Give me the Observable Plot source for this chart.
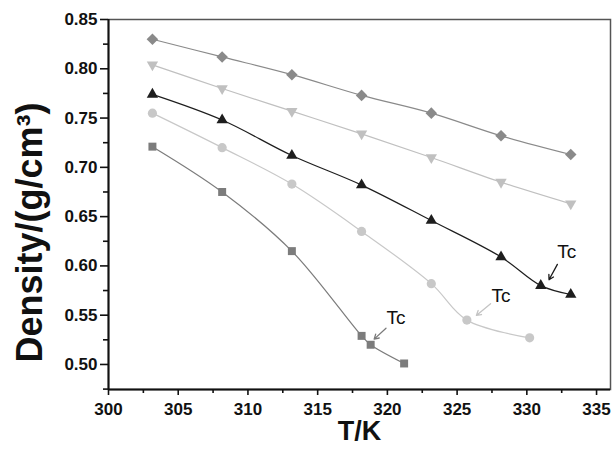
<!DOCTYPE html>
<html><head><meta charset="utf-8">
<script src="https://cdn.jsdelivr.net/npm/d3@7"></script>
<script src="https://cdn.jsdelivr.net/npm/@observablehq/plot@0.6"></script>
<style>body{margin:0;background:#fff}</style>
</head><body><div id="chart"></div>
<script>
// Data
const tempsA = [303.15, 308.15, 313.15, 318.15, 323.15, 328.15, 333.15];
const densDiamond = [0.830, 0.812, 0.794, 0.773, 0.755, 0.732, 0.713];
const densInvTri  = [0.804, 0.780, 0.757, 0.734, 0.710, 0.685, 0.663];
const tempsTri = [303.15, 308.15, 313.15, 318.15, 323.15, 328.15, 331.0, 333.15];
const densTri  = [0.774, 0.748, 0.712, 0.682, 0.646, 0.609, 0.580, 0.571];
const tempsCircle = [303.15, 308.15, 313.15, 318.15, 323.15, 325.7, 330.2];
const densCircle  = [0.755, 0.720, 0.683, 0.635, 0.582, 0.545, 0.527];
const tempsSquare = [303.15, 308.15, 313.15, 318.15, 318.8, 321.2];
const densSquare  = [0.721, 0.675, 0.615, 0.529, 0.520, 0.501];

// Tc annotations (data units)
const tcLabelT = [320.62, 328.14, 332.86];
const tcLabelD = [0.5474, 0.5691, 0.6147];
const tcArrowT1 = [319.9, 327.4, 332.19];
const tcArrowD1 = [0.5368, 0.5617, 0.6015];
const tcArrowT2 = [319.05, 326.38, 331.59];
const tcArrowD2 = [0.5257, 0.5498, 0.586];
const tcColors = ["#7a7a7a", "#c4c4c4", "#1a1a1a"];

const xDomain = [300, 336];
const yDomain = [0.4746, 0.85];
const xTicks = [300, 305, 310, 315, 320, 325, 330, 335];
const xMinor = [302.5, 307.5, 312.5, 317.5, 322.5, 327.5, 332.5];
const yTicks = [0.50, 0.55, 0.60, 0.65, 0.70, 0.75, 0.80, 0.85];
const yMinor = [0.475, 0.525, 0.575, 0.625, 0.675, 0.725, 0.775, 0.825];

const series = [
  {T: tempsA, D: densDiamond, symbol: "diamond2", color: "#8a8a8a", r: 5.2, rotate: 0},
  {T: tempsA, D: densInvTri, symbol: "triangle", color: "#c0c0c0", r: 4.2, rotate: 180},
  {T: tempsTri, D: densTri, symbol: "triangle", color: "#1e1e1e", r: 4.2, rotate: 0},
  {T: tempsCircle, D: densCircle, symbol: "circle", color: "#c8c8c8", r: 4.6, rotate: 0},
  {T: tempsSquare, D: densSquare, symbol: "square", color: "#7c7c7c", r: 4.5, rotate: 0}
];

const seriesMarks = series.flatMap(s => {
  const rows = s.T.map((t, i) => ({T: t, D: s.D[i]}));
  return [
    Plot.line(rows, {x: "T", y: "D", stroke: s.color, strokeWidth: 1.2, curve: "catmull-rom"}),
    Plot.dot(rows, {x: "T", y: "D", symbol: s.symbol, fill: s.color, stroke: "none", r: s.r, rotate: s.rotate})
  ];
});

const tcRows = tcLabelT.map((t, i) => ({
  lt: t, ld: tcLabelD[i], x1: tcArrowT1[i], y1: tcArrowD1[i], x2: tcArrowT2[i], y2: tcArrowD2[i], c: tcColors[i]
}));

const font = "'Liberation Sans', Arial, Helvetica, sans-serif";

const chart = Plot.plot({
  width: 612,
  height: 458,
  marginLeft: 108,
  marginRight: 2,
  marginTop: 19,
  marginBottom: 69,
  style: {fontFamily: font, background: "#fff", color: "#111"},
  x: {domain: xDomain},
  y: {domain: yDomain},
  marks: [
    Plot.frame({stroke: "#555", strokeWidth: 1.5}),
    ...seriesMarks,
    Plot.arrow(tcRows, {x1: "x1", y1: "y1", x2: "x2", y2: "y2", stroke: d => d.c, strokeWidth: 1.3, headLength: 6, bend: 0}),
    Plot.text(tcRows, {x: "lt", y: "ld", text: () => "Tc", fontSize: 19, fill: "#111", fontWeight: "normal"}),
    Plot.ruleX([xDomain[0]], {stroke: "#111", strokeWidth: 2}),
    Plot.ruleY([yDomain[0]], {stroke: "#111", strokeWidth: 2}),
    Plot.axisX({ticks: xTicks, tickSize: 6, tickPadding: 7, fontSize: 17, fontWeight: "bold", label: null, stroke: "#111", strokeWidth: 1.6, tickFormat: d3.format("d")}),
    Plot.axisX({ticks: xMinor, tickSize: 4, text: null, label: null, stroke: "#111", strokeWidth: 1.6}),
    Plot.axisY({ticks: yTicks, tickSize: 8, tickPadding: 3, fontSize: 17, fontWeight: "bold", label: null, stroke: "#111", strokeWidth: 1.6, tickFormat: d3.format(".2f")}),
    Plot.axisY({ticks: yMinor, tickSize: 5, text: null, label: null, stroke: "#111", strokeWidth: 1.6}),
    Plot.text(["T/K"], {frameAnchor: "bottom", dy: 42, text: d => d, fontSize: 27, fontWeight: "bold", fill: "#111", lineAnchor: "middle", textAnchor: "middle"}),
    Plot.text(["Density/(g/cm³)"], {frameAnchor: "left", dx: -78, dy: 28, rotate: -90, text: d => d, fontSize: 36, fontWeight: "bold", fill: "#111", lineAnchor: "middle", textAnchor: "middle"})
  ]
});
document.getElementById("chart").appendChild(chart);
</script>
</body></html>
